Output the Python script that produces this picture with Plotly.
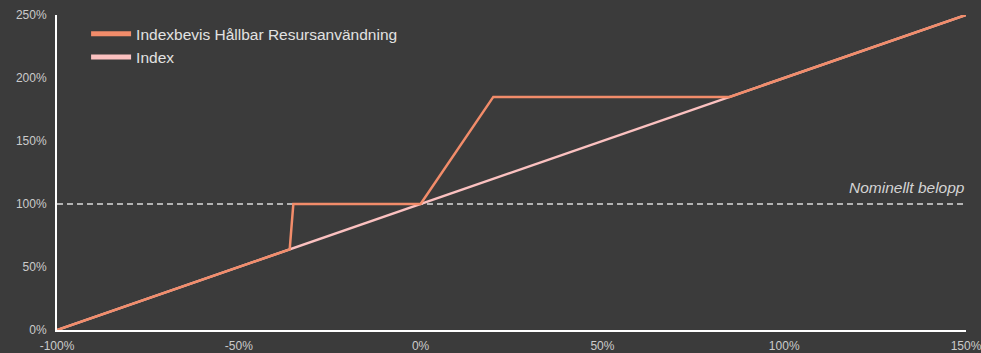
import plotly.graph_objects as go

# Data (percent)
index_x = [-100, 150]
index_y = [0, 250]

product_x = [-100, -36, -35, 0, 20, 85, 150]
product_y = [0, 64, 100, 100, 185, 185, 250]

nominal_level = 100
x_ticks = [-100, -50, 0, 50, 100, 150]
x_labels = ["-100%", "-50%", "0%", "50%", "100%", "150%"]
y_ticks = [0, 50, 100, 150, 200, 250]
y_labels = ["0%", "50%", "100%", "150%", "200%", "250%"]

BG = "#3b3b3b"
ORANGE = "#F28C6A"
PINK = "#FBC1C0"
PRODUCT_NAME = "Indexbevis Hållbar Resursanvändning"

fig = go.Figure()
fig.add_trace(go.Scatter(x=index_x, y=index_y, mode="lines", name="Index",
                         line=dict(color=PINK, width=2.5), showlegend=False))
fig.add_trace(go.Scatter(x=product_x, y=product_y, mode="lines",
                         name=PRODUCT_NAME,
                         line=dict(color=ORANGE, width=2.5), showlegend=False))
# legend entries with thicker sample lines
fig.add_trace(go.Scatter(x=[None], y=[None], mode="lines", name=PRODUCT_NAME,
                         line=dict(color=ORANGE, width=5), legendrank=1))
fig.add_trace(go.Scatter(x=[None], y=[None], mode="lines", name="Index",
                         line=dict(color=PINK, width=5), legendrank=2))

fig.add_shape(type="line", xref="x", yref="y", x0=-100, x1=150,
              y0=nominal_level, y1=nominal_level,
              line=dict(color="#dcdcdc", width=1.5, dash="6px,4px"), layer="below")
fig.add_annotation(x=150, y=nominal_level, xref="x", yref="y", text="<i>Nominellt belopp</i>",
                   showarrow=False, xanchor="right", yanchor="bottom", yshift=6, xshift=1,
                   font=dict(size=15.5, color="#d4d4d4"))

fig.update_layout(
    width=981, height=353,
    margin=dict(l=57, r=15, t=15, b=23, autoexpand=False),
    paper_bgcolor=BG, plot_bgcolor=BG,
    font=dict(family="Liberation Sans, Arial, sans-serif", color="#cfcfcf", size=12),
    showlegend=True,
    legend=dict(x=0.032, y=0.993, xanchor="left", yanchor="top",
                bgcolor="rgba(0,0,0,0)", font=dict(size=15.5, color="#e2e2e2"),
                tracegroupgap=0, itemwidth=40),
)
fig.update_xaxes(range=[-100, 150], tickvals=x_ticks, ticktext=x_labels, automargin=False,
                 ticklabeloverflow="allow",
                 showgrid=False, zeroline=False, showline=True, linecolor="#ffffff",
                 linewidth=2, ticks="outside", ticklen=4, tickcolor=BG,
                 tickfont=dict(size=12, color="#cbcbcb"))
fig.update_yaxes(range=[0, 250], tickvals=y_ticks, ticktext=y_labels, automargin=False,
                 ticklabeloverflow="allow",
                 showgrid=False, zeroline=False, showline=True, linecolor="#ffffff",
                 linewidth=2, ticks="outside", ticklen=6, tickcolor=BG,
                 tickfont=dict(size=12, color="#cbcbcb"))

fig.write_html("out.html")
